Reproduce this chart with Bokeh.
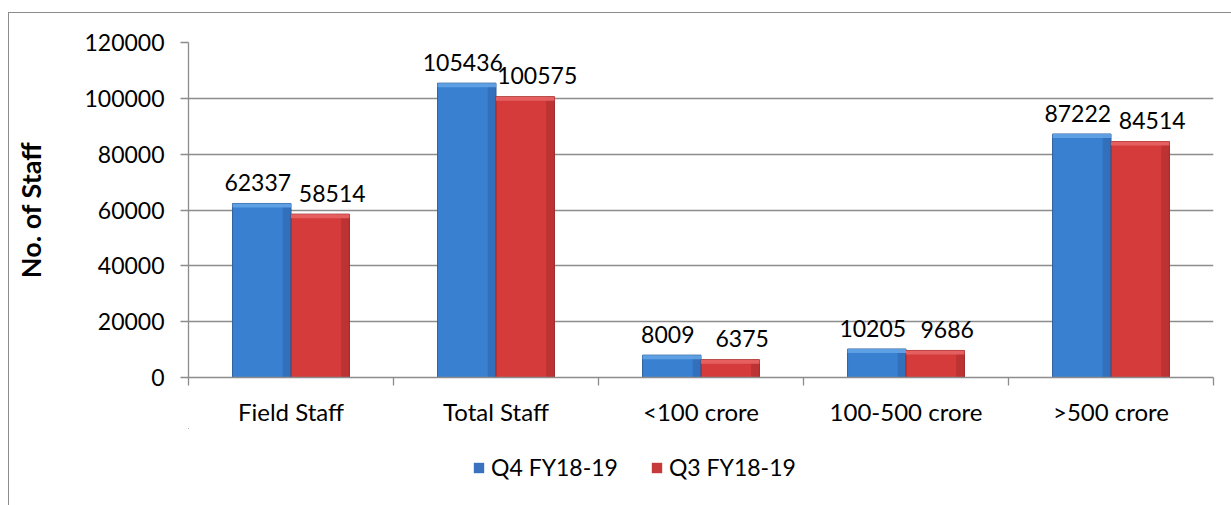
from bokeh.plotting import figure
from bokeh.layouts import column
from bokeh.models import Range1d, FixedTicker, Legend, LegendItem, ColumnDataSource, NumeralTickFormatter
from bokeh.core.properties import value
from bokeh.embed import file_html
from bokeh.resources import INLINE

categories = ["Field Staff", "Total Staff", "<100 crore", "100-500 crore", ">500 crore"]
series_names = ["Q4 FY18-19", "Q3 FY18-19"]
q4_values = [62337, 105436, 8009, 10205, 87222]
q3_values = [58514, 100575, 6375, 9686, 84514]
y_ticks = [0, 20000, 40000, 60000, 80000, 100000, 120000]

FONT = "Lato"
GRAY = "#8c8c8c"
BLUE, BLUE_EDGE, BLUE_DARK, BLUE_LIGHT = "#3a80d0", "#2c5d9a", "#2a5fa6", "#63a3e6"
RED, RED_EDGE, RED_DARK, RED_LIGHT = "#d53b3b", "#9a2828", "#a52a2a", "#e86464"
FRAME_H = 336  # frame height in px
centers = [i + 0.5 for i in range(len(categories))]
bw = 0.285
edge_w = bw * 0.14
cap = y_ticks[-1] * 4 / FRAME_H  # 4 px bevel at the top of each bar

src = ColumnDataSource(dict(
    xq4=[c - bw / 2 for c in centers],
    xq3=[c + bw / 2 for c in centers],
    xq4r=[c - edge_w / 2 for c in centers],
    xq3r=[c + bw - edge_w / 2 for c in centers],
    q4=q4_values,
    q3=q3_values,
    q4c=[v - cap for v in q4_values],
    q3c=[v - cap for v in q3_values],
    l4=[str(v) for v in q4_values],
    l3=[str(v) for v in q3_values],
))

W = 1222
p = figure(width=W, height=415, x_range=Range1d(0, len(categories)), y_range=Range1d(0, y_ticks[-1]),
           output_backend="svg", toolbar_location=None,
           min_border_left=179, min_border_right=18, min_border_top=29, min_border_bottom=50)
p.outline_line_color = None
p.background_fill_color = "white"
p.border_fill_color = "white"

# grid
p.xgrid.visible = False
p.ygrid.ticker = FixedTicker(ticks=y_ticks)
p.ygrid.grid_line_color = GRAY
p.ygrid.grid_line_width = 1.3

# x axis
p.xaxis.ticker = FixedTicker(ticks=centers, minor_ticks=list(range(len(categories) + 1)))
p.xaxis.major_label_overrides = {c: cat for c, cat in zip(centers, categories)}
p.xaxis.major_tick_out = 0
p.xaxis.major_tick_in = 0
p.xaxis.minor_tick_out = 8
p.xaxis.minor_tick_in = 0
p.xaxis.minor_tick_line_color = GRAY
p.xaxis.minor_tick_line_width = 1.3
p.xaxis.axis_line_color = GRAY
p.xaxis.axis_line_width = 1.3
p.xaxis.major_label_standoff = 11
p.xaxis.major_label_text_font = FONT
p.xaxis.major_label_text_font_size = "24px"
p.xaxis.major_label_text_color = "black"

# y axis
p.yaxis.ticker = FixedTicker(ticks=y_ticks, minor_ticks=[])
p.yaxis.formatter = NumeralTickFormatter(format="0")
p.yaxis.major_tick_out = 8
p.yaxis.major_tick_in = 0
p.yaxis.major_tick_line_color = GRAY
p.yaxis.major_tick_line_width = 1.3
p.yaxis.axis_line_color = GRAY
p.yaxis.axis_line_width = 1.3
p.yaxis.major_label_standoff = 16
p.yaxis.major_label_text_font = FONT
p.yaxis.major_label_text_font_size = "23px"
p.yaxis.major_label_text_color = "black"
p.yaxis.axis_label = "No. of Staff"
p.yaxis.axis_label_text_font = FONT
p.yaxis.axis_label_text_font_style = "bold"
p.yaxis.axis_label_text_font_size = "27px"
p.yaxis.axis_label_text_color = "black"
p.yaxis.axis_label_standoff = 34

# bars
r4 = p.vbar(x="xq4", top="q4", bottom=0, width=bw, source=src,
            fill_color=BLUE, line_color=BLUE_EDGE, line_width=1)
r3 = p.vbar(x="xq3", top="q3", bottom=0, width=bw, source=src,
            fill_color=RED, line_color=RED_EDGE, line_width=1)
# 3-D look: darker right edge and lighter top bevel
p.vbar(x="xq4r", top="q4", bottom=0, width=edge_w, source=src,
       fill_color=BLUE_DARK, fill_alpha=0.5, line_color=None)
p.vbar(x="xq3r", top="q3", bottom=0, width=edge_w, source=src,
       fill_color=RED_DARK, fill_alpha=0.5, line_color=None)
p.vbar(x="xq4", top="q4", bottom="q4c", width=bw, source=src,
       fill_color=BLUE_LIGHT, fill_alpha=0.9, line_color=None)
p.vbar(x="xq3", top="q3", bottom="q3c", width=bw, source=src,
       fill_color=RED_LIGHT, fill_alpha=0.9, line_color=None)

# data labels
p.text(x="xq4", y="q4", text="l4", source=src, text_align="center", text_baseline="alphabetic",
       x_offset=-4, y_offset=-21, text_font=value(FONT), text_font_size="23px", text_color="black")
p.text(x="xq3", y="q3", text="l3", source=src, text_align="center", text_baseline="alphabetic",
       x_offset=12, y_offset=-21, text_font=value(FONT), text_font_size="23px", text_color="black")

# legend strip below the chart (its keys use the same series, outside this strip's visible range)
pl = figure(width=W, height=77, x_range=Range1d(100, 101), y_range=Range1d(-2, -1),
            x_axis_type=None, y_axis_type=None, output_backend="svg", toolbar_location=None,
            min_border=0)
pl.outline_line_color = None
pl.grid.visible = False
pl.background_fill_color = "white"
pl.border_fill_color = "white"
k4 = pl.vbar(x="xq4", top="q4", bottom=0, width=bw, source=src, fill_color="#3a72bf", line_color=None)
k3 = pl.vbar(x="xq3", top="q3", bottom=0, width=bw, source=src, fill_color="#c73a3a", line_color=None)
legend = Legend(items=[LegendItem(label=series_names[0], renderers=[k4]),
                       LegendItem(label=series_names[1], renderers=[k3])],
                orientation="horizontal", location=(284, 24),
                glyph_width=13, glyph_height=13, label_standoff=6, spacing=32,
                label_text_font=FONT, label_text_font_size="23px", label_text_color="black",
                border_line_color=None, background_fill_alpha=0, padding=0, margin=0)
pl.add_layout(legend, "center")

root = column(p, pl, spacing=0)
root.styles = {"margin-left": "8px", "margin-top": "12px",
               "border-top": "1px solid #8c8c8c", "border-left": "1px solid #8c8c8c"}

open("out.html", "w").write(file_html(root, INLINE))
